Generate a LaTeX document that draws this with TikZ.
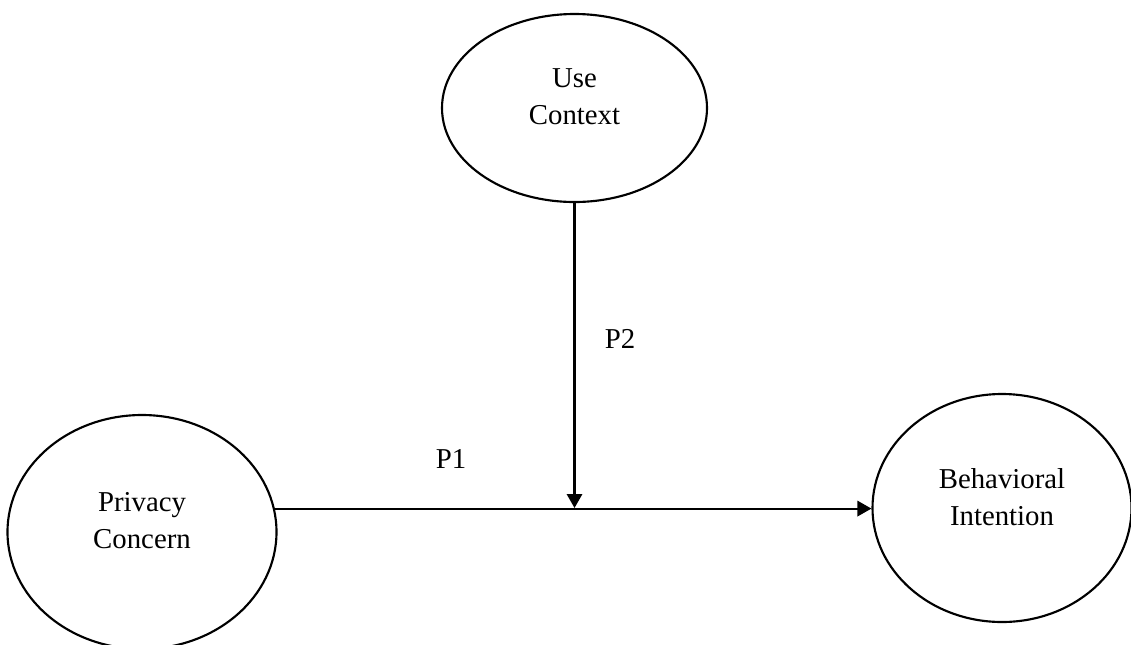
\documentclass[tikz,border=0pt]{standalone}
\usepackage{fontspec}
\setmainfont{Liberation Serif}
\usetikzlibrary{shapes.geometric,arrows.meta}

\tikzset{
  construct/.style={draw, ellipse, line width=1.6pt, inner sep=0pt, align=center,
    font=\fontsize{21.6}{27.5}\selectfont, text depth=17pt},
  link/.style={line width=1.6pt, -{Triangle[length=10.5pt,width=11.5pt]}},
  plabel/.style={anchor=base, inner sep=0.75pt, font=\fontsize{21.6}{27.5}\selectfont}
}

\begin{document}
\begin{tikzpicture}[x=0.75pt,y=0.75pt,yscale=-1,xscale=1]
\useasboundingbox (0,0) rectangle (1131,644);

%Shape: Ellipse [id:uc] 
\node [construct, minimum width=198.75pt, minimum height=141pt] (uc) at (574.5,108) {Use\\Context};
%Shape: Ellipse [id:pc] 
\node [construct, minimum width=201.75pt, minimum height=175.5pt] (pc) at (142,532) {Privacy\\Concern};
%Shape: Ellipse [id:bi] 
\node [construct, minimum width=194.25pt, minimum height=171pt] (bi) at (1002,508) {Behavioral\\Intention};

%Straight Lines [id:p1] 
\draw [link] (pc.10.3) -- (pc.10.3 -| bi.west);
%Straight Lines [id:p2] 
\coordinate (mod) at (uc.south |- bi.west);
\draw [link] (uc.south) -- (mod);

\node [plabel] (lbl1) at (451,468) {P1};
\node [plabel] (lbl2) at (620,348) {P2};
\end{tikzpicture}
\end{document}
